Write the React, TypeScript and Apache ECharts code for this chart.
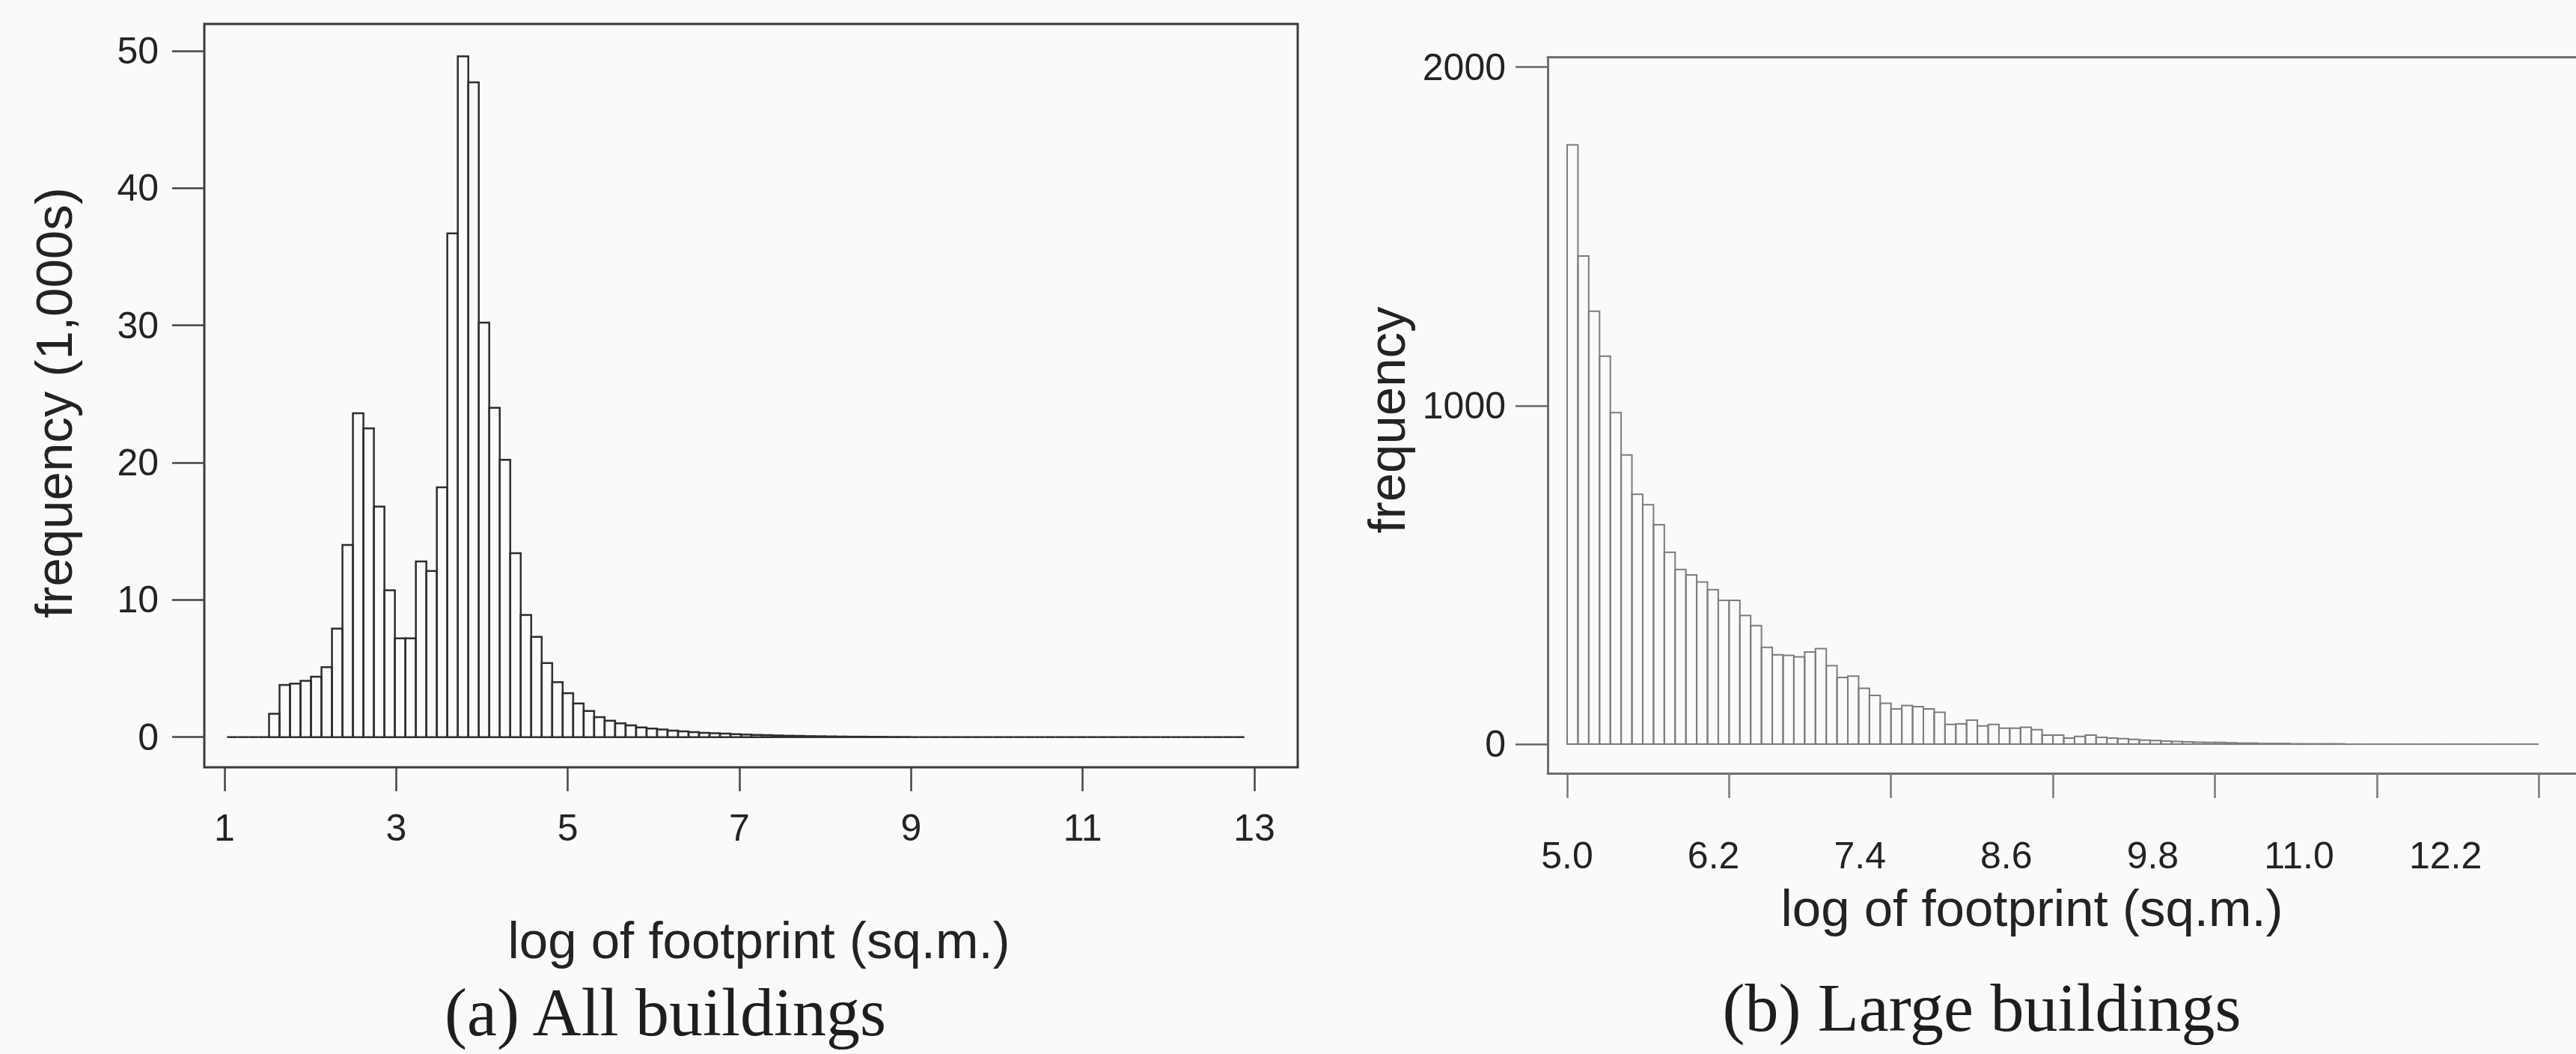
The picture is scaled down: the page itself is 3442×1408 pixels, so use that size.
import React, { useEffect, useRef } from "react";
import * as echarts from "echarts";

// ---------- (a) All buildings ----------
const allTicksX = [1, 3, 5, 7, 9, 11, 13];
const allTicksY = [0, 10, 20, 30, 40, 50];
const allBinStart = 1.03;
const allBinWidth = 0.1222;
// frequency in thousands, one value per bin
const allCounts = [
  0, 0, 0, 0, 1.7, 3.8, 3.9, 4.1, 4.4, 5.1,
  7.9, 14.0, 23.6, 22.5, 16.8, 10.7, 7.2, 7.2, 12.8, 12.1,
  18.2, 36.7, 49.6, 47.7, 30.2, 24.0, 20.2, 13.4, 8.9, 7.3,
  5.4, 4.0, 3.2, 2.45, 1.9, 1.45, 1.2, 1.0, 0.85, 0.7,
  0.62, 0.55, 0.47, 0.42, 0.36, 0.31, 0.28, 0.25, 0.22, 0.19,
  0.16, 0.14, 0.12, 0.1, 0.09, 0.07, 0.06, 0.05, 0.04, 0.03,
  0.03, 0.02, 0.02, 0.01, 0.01, 0, 0, 0, 0, 0,
  0, 0, 0, 0, 0, 0, 0, 0, 0, 0,
  0, 0, 0, 0, 0, 0, 0, 0, 0, 0,
  0, 0, 0, 0, 0, 0, 0,
];

// ---------- (b) Large buildings ----------
const largeTicksX = [5.0, 6.2, 7.4, 8.6, 9.8, 11.0, 12.2];
const largeTicksY = [0, 1000, 2000];
const largeBinStart = 5.0;
const largeBinWidth = 0.08;
const largeCounts = [
  1770, 1442, 1279, 1146, 979, 854, 738, 707, 648, 567,
  516, 500, 479, 456, 425, 425, 380, 350, 286, 264,
  262, 258, 272, 282, 232, 197, 201, 165, 144, 121,
  104, 114, 111, 104, 94, 58, 60, 71, 54, 58,
  47, 47, 50, 43, 27, 27, 18, 23, 27, 20,
  18, 16, 14, 12, 11, 9, 8, 7, 6, 5,
  5, 4, 3, 3, 2, 2, 2, 1, 1, 1,
  1, 1, 0, 0, 0, 0, 0, 0, 0, 0,
  0, 0, 0, 0, 0, 0, 0, 0, 0, 0,
];

const SANS = "'Liberation Sans', Arial, Helvetica, sans-serif";
const SERIF = "'Liberation Serif', 'Times New Roman', serif";
const TEXT = "#232323";

function toBins(start: number, width: number, counts: number[]) {
  return counts.map((c, i) => [start + i * width, start + (i + 1) * width, c]);
}

function binRenderer(stroke: string, lineWidth: number) {
  return (_params: any, api: any) => {
    const x0 = api.value(0);
    const x1 = api.value(1);
    const v = api.value(2);
    const p0 = api.coord([x0, 0]);
    const p1 = api.coord([x1, v]);
    if (!v) {
      return {
        type: "line",
        shape: { x1: p0[0], y1: p0[1], x2: p1[0], y2: p0[1] },
        style: { stroke, lineWidth },
      };
    }
    return {
      type: "rect",
      shape: { x: p0[0], y: p1[1], width: p1[0] - p0[0], height: p0[1] - p1[1] },
      style: { fill: "none", stroke, lineWidth },
    };
  };
}

export default function App() {
  const ref = useRef<HTMLDivElement>(null);

  useEffect(() => {
    if (!ref.current) return;
    const chart = echarts.init(ref.current, undefined, { renderer: "svg" });

    const tickLabel = { fontSize: 50, fontFamily: SANS, color: TEXT };
    const titleStyle = { fontSize: 69, fontFamily: SANS, fill: TEXT, align: "center", verticalAlign: "middle" };
    const captionStyle = { fontSize: 90, fontFamily: SERIF, fill: "#1e1e1e", align: "center", verticalAlign: "middle" };
    const frameB = { show: true, onZero: false, lineStyle: { color: "#6e6e6e", width: 3 } };
    const plain = (v: number) => String(v);

    // panel (b): plot area runs to the right edge of the page
    const bLeft = 2068;
    const bRight = 3442;
    const bTickMax = 5 + (bRight - 2094) / 180.3;
    const bTickMin = 5 - (2094 - bLeft) / 180.3;
    const bLabMax = 5 + (bRight - 2094) / 163;
    const bLabMin = 5 - (2094 - bLeft) / 163;

    const option: any = {
      animation: false,
      backgroundColor: "#fafafc",
      grid: [
        { left: 273, top: 32, width: 1461, height: 993, show: true, borderColor: "#3a3a3a", borderWidth: 3 },
        { left: bLeft, top: 76, width: bRight - bLeft, height: 957, show: false },
      ],
      xAxis: [
        {
          type: "value", gridIndex: 0, min: 0.7645, max: 13.506,
          axisLine: { show: false, onZero: false },
          axisTick: { show: true, customValues: allTicksX, length: 32, lineStyle: { color: "#444", width: 2.5 } },
          axisLabel: { customValues: allTicksX, margin: 56, ...tickLabel, formatter: plain },
          splitLine: { show: false },
        },
        {
          type: "value", gridIndex: 1, position: "bottom", min: bTickMin, max: bTickMax,
          axisLine: frameB,
          axisTick: { show: true, customValues: largeTicksX, length: 33, lineStyle: { color: "#777", width: 2.5 } },
          axisLabel: { show: false },
          splitLine: { show: false },
        },
        {
          type: "value", gridIndex: 1, position: "bottom", min: bLabMin, max: bLabMax,
          axisLine: { show: false, onZero: false },
          axisTick: { show: false },
          axisLabel: {
            customValues: largeTicksX, margin: 85, ...tickLabel,
            formatter: (v: number) => v.toFixed(1),
          },
          splitLine: { show: false },
        },
        {
          type: "value", gridIndex: 1, position: "top", min: bTickMin, max: bTickMax,
          axisLine: frameB,
          axisTick: { show: false },
          axisLabel: { show: false },
          splitLine: { show: false },
        },
      ],
      yAxis: [
        {
          type: "value", gridIndex: 0, min: -2.2, max: 51.96,
          axisLine: { show: false, onZero: false },
          axisTick: { show: true, customValues: allTicksY, length: 43, lineStyle: { color: "#444", width: 2.5 } },
          axisLabel: { customValues: allTicksY, margin: 61, ...tickLabel, formatter: plain },
          splitLine: { show: false },
        },
        {
          type: "value", gridIndex: 1, min: -86, max: 2030,
          axisLine: frameB,
          axisTick: { show: true, customValues: largeTicksY, length: 43, lineStyle: { color: "#666", width: 2.5 } },
          axisLabel: { customValues: largeTicksY, margin: 56, ...tickLabel, formatter: plain },
          splitLine: { show: false },
        },
      ],
      series: [
        {
          type: "custom", name: "All buildings", xAxisIndex: 0, yAxisIndex: 0,
          encode: { x: [0, 1], y: 2 },
          data: toBins(allBinStart, allBinWidth, allCounts),
          renderItem: binRenderer("#2e2e2e", 2.5),
        },
        {
          type: "custom", name: "Large buildings", xAxisIndex: 1, yAxisIndex: 1,
          encode: { x: [0, 1], y: 2 },
          data: toBins(largeBinStart, largeBinWidth, largeCounts),
          renderItem: binRenderer("#7c7c7c", 2),
        },
      ],
      graphic: [
        { type: "text", x: 72, y: 538, rotation: Math.PI / 2, style: { text: "frequency (1,000s)", ...titleStyle } },
        { type: "text", x: 1014, y: 1256, style: { text: "log of footprint (sq.m.)", ...titleStyle } },
        { type: "text", x: 1853, y: 561, rotation: Math.PI / 2, style: { text: "frequency", ...titleStyle } },
        { type: "text", x: 2715, y: 1213, style: { text: "log of footprint (sq.m.)", ...titleStyle } },
        { type: "text", x: 889, y: 1352, style: { text: "(a) All buildings", ...captionStyle } },
        { type: "text", x: 2648, y: 1346, style: { text: "(b) Large buildings", ...captionStyle } },
      ],
    };

    chart.setOption(option);
    return () => chart.dispose();
  }, []);

  return (
    <div
      ref={ref}
      style={{ position: "absolute", left: 0, top: 0, width: 3442, height: 1408 }}
    />
  );
}
